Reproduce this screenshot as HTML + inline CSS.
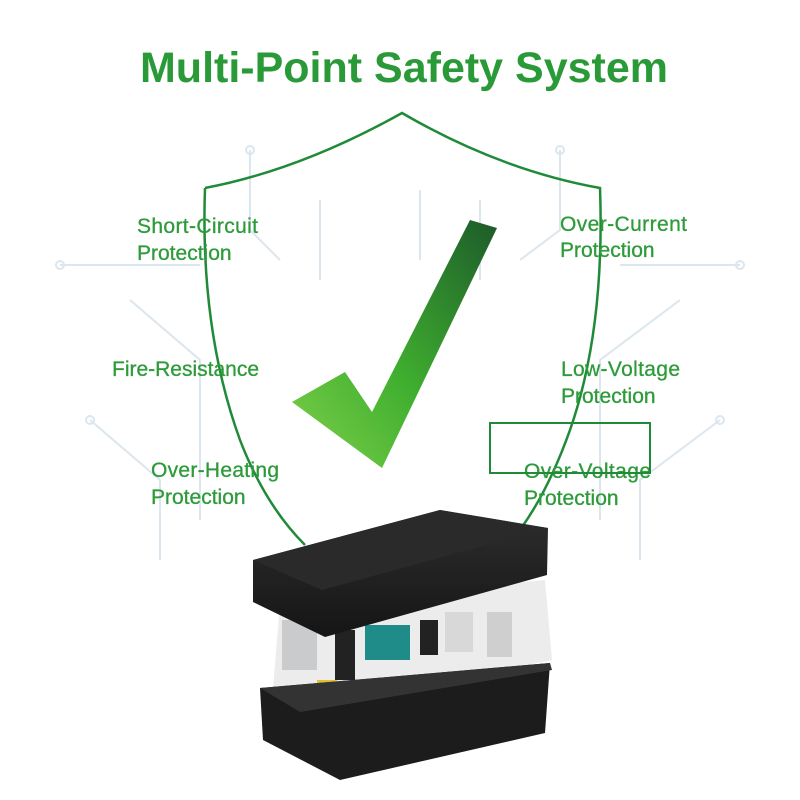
<!DOCTYPE html>
<html><head><style>
body{margin:0;background:#fff;}
svg{display:block}
</style></head><body>
<svg width="800" height="800" viewBox="0 0 800 800" xmlns="http://www.w3.org/2000/svg">
<defs>
<linearGradient id="ck" x1="0" y1="1" x2="1" y2="0">
<stop offset="0" stop-color="#7fd14a"/><stop offset="0.45" stop-color="#3fae2f"/><stop offset="1" stop-color="#1d5a2a"/>
</linearGradient>
<linearGradient id="lid" x1="0" y1="0" x2="0" y2="1">
<stop offset="0" stop-color="#2e2e2e"/><stop offset="1" stop-color="#151515"/>
</linearGradient>
</defs>
<g stroke="#dbe6ee" stroke-width="2" fill="none">
<path d="M60 265 H200 M620 265 H740 M130 300 L200 360 V520 M680 300 L600 360 V520 M90 420 L160 480 V560 M720 420 L640 480 V560 M250 150 V230 L280 260 M560 150 V230 L520 260 M320 200 V280 M480 200 V280 M420 190 V260"/>
<circle cx="60" cy="265" r="4"/><circle cx="740" cy="265" r="4"/><circle cx="250" cy="150" r="4"/><circle cx="560" cy="150" r="4"/><circle cx="90" cy="420" r="4"/><circle cx="720" cy="420" r="4"/>
</g>
<text x="404" y="82" text-anchor="middle" font-family="Liberation Sans, sans-serif" font-weight="bold" font-size="43" fill="#2a9a38">Multi-Point Safety System</text>
<path d="M205 188 Q300 170 402 113 Q500 170 600 188 Q605 330 570 430 Q545 500 512 540 M205 188 Q200 330 240 440 Q265 505 305 545" stroke="#1f8a38" stroke-width="2.5" fill="none"/>
<polygon points="292,402 345,372 372,412 470,220 497,228 382,468" fill="url(#ck)"/>
<g font-family="Liberation Sans, sans-serif" font-size="21" fill="#2e9b3a" stroke="#2e9b3a" stroke-width="0.3">
<text x="137" y="233" textLength="121">Short-Circuit</text><text x="137" y="260">Protection</text>
<text x="112" y="376" textLength="147">Fire-Resistance</text>
<text x="151" y="477" textLength="128">Over-Heating</text><text x="151" y="504">Protection</text>
<text x="560" y="231" textLength="127">Over-Current</text><text x="560" y="257">Protection</text>
<text x="561" y="376" textLength="119">Low-Voltage</text><text x="561" y="403">Protection</text>
<text x="524" y="478" textLength="127">Over-Voltage</text><text x="524" y="505">Protection</text>
</g>
<rect x="490" y="423" width="160" height="50" fill="none" stroke="#1f8a38" stroke-width="2"/>
<polygon points="280,605 545,580 552,660 300,712 272,700" fill="#ececec"/>
<rect x="282" y="620" width="35" height="50" fill="#c9cbcd"/>
<rect x="335" y="630" width="20" height="50" fill="#222"/>
<rect x="365" y="625" width="45" height="35" fill="#1f8c8a"/>
<rect x="420" y="620" width="18" height="35" fill="#222"/>
<rect x="445" y="612" width="28" height="40" fill="#d8d8d8"/>
<rect x="487" y="612" width="25" height="45" fill="#cfcfcf"/>
<rect x="317" y="680" width="20" height="20" fill="#e0c030"/>
<polygon points="253,560 440,510 548,528 547,575 325,637 253,602" fill="url(#lid)"/>
<polygon points="253,560 440,510 548,528 322,590" fill="#2a2a2a"/>
<polygon points="260,688 550,663 545,733 340,780 263,740" fill="#1c1c1c"/>
<polygon points="260,688 550,663 552,670 300,712" fill="#333"/>
</svg>
</body></html>
